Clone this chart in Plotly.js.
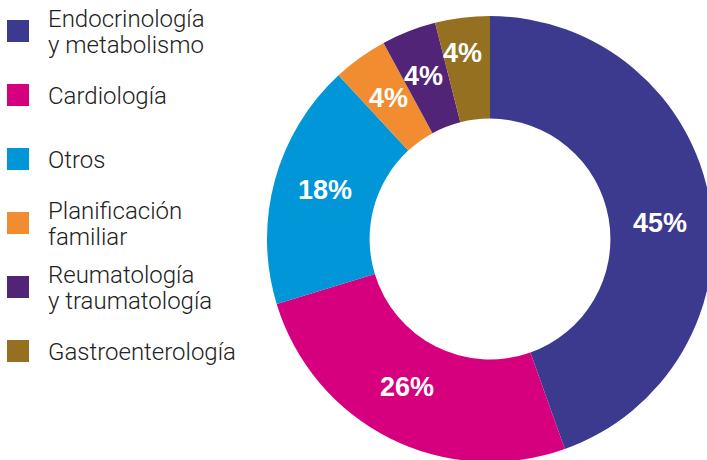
<!DOCTYPE html>
<html><head><meta charset="utf-8">
<script src="https://cdn.plot.ly/plotly-3.0.1.min.js"></script>
<style>html,body{margin:0;padding:0;overflow:hidden;background:#fff}</style>
</head><body><div id="chart"></div>
<script>
const categories = ["Endocrinología<br>y metabolismo", "Cardiología", "Otros", "Planificación<br>familiar", "Reumatología<br>y traumatología", "Gastroenterología"];
const values = [45, 26, 18, 4, 4, 4];
const colors = ["#3c3a8e", "#d6007f", "#0096d8", "#f28c30", "#522478", "#967021"];

// layout-only tuning (pixels)
const W = 720, H = 480;
const cx = 490, cy = 239, R = 223, hole = 0.54, rLabel = 171;
const labelNudge = [[1.5, 13], [-6, -5], [0, -4], [-1.5, -2], [-4, -4], [-6, -16]];
const X = px => px / W, Y = py => 1 - py / H;

const total = values.reduce((a, b) => a + b, 0);
const annotations = [];
const shapes = [];
let cum = 0;
values.forEach((v, i) => {
  const th = (cum + v / 2) / total * 2 * Math.PI;
  cum += v;
  annotations.push({
    xref: 'paper', yref: 'paper',
    x: X(cx + rLabel * Math.sin(th) + labelNudge[i][0]),
    y: Y(cy - rLabel * Math.cos(th) + labelNudge[i][1]),
    xanchor: 'center', yanchor: 'middle', showarrow: false,
    text: v + '%',
    font: {family: 'Liberation Sans, Arial, sans-serif', size: 27, color: '#ffffff', weight: 'bold'}
  });
});
const lineGap = 26;
categories.forEach((c, i) => {
  const yc = 31 + 64 * i;
  shapes.push({type: 'rect', xref: 'paper', yref: 'paper',
    x0: X(7), x1: X(29), y0: Y(yc - 11), y1: Y(yc + 11),
    fillcolor: colors[i], line: {width: 0}});
  const lines = c.split('<br>');
  lines.forEach((ln, j) => {
    const yl = yc + (j - (lines.length - 1) / 2) * lineGap;
    annotations.push({xref: 'paper', yref: 'paper', x: X(46), y: Y(yl + 1),
      xanchor: 'left', yanchor: 'middle', align: 'left', showarrow: false,
      text: ln, font: {family: 'Roboto, sans-serif', size: 24, color: '#222222', weight: 300}});
  });
});

const data = [{
  type: 'pie', labels: categories, values: values, hole: hole, sort: false,
  direction: 'clockwise', rotation: 0,
  marker: {colors: colors, line: {width: 0}},
  textinfo: 'none', hoverinfo: 'label+percent',
  domain: {x: [X(cx - R), X(cx + R)], y: [Y(cy + R), Y(cy - R)]}
}];
const layout = {
  width: W, height: H, margin: {l: 0, r: 0, t: 0, b: 0},
  showlegend: false, paper_bgcolor: '#fff',
  annotations: annotations, shapes: shapes
};
Plotly.newPlot('chart', data, layout, {displayModeBar: false, staticPlot: true});
</script></body></html>
